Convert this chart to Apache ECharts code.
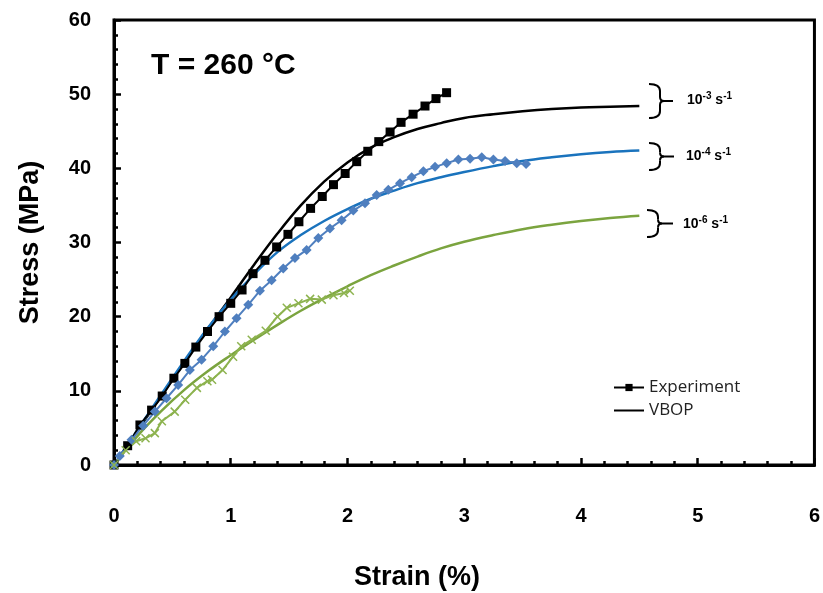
<!DOCTYPE html>
<html>
<head>
<meta charset="utf-8">
<script src="https://cdn.jsdelivr.net/npm/echarts@6/dist/echarts.min.js"></script>
<style>html,body{margin:0;padding:0;background:#fff}#c{width:823px;height:593px}</style>
</head>
<body>
<div id="c"></div>
<script>
// ---- data ----
const xTicks = [0, 1, 2, 3, 4, 5, 6];
const yTicks = [0, 10, 20, 30, 40, 50, 60];

const expBlackStrain = [0, 0.117, 0.222, 0.322, 0.413, 0.513, 0.607, 0.701, 0.801, 0.900, 1.0, 1.097, 1.191, 1.293, 1.393, 1.490, 1.584, 1.684, 1.784, 1.880, 1.980, 2.079, 2.174, 2.268, 2.365, 2.459, 2.562, 2.664, 2.758, 2.849];
const expBlackStress = [0, 2.6, 5.4, 7.4, 9.3, 11.7, 13.7, 15.9, 18.0, 20.0, 21.8, 23.6, 25.8, 27.6, 29.4, 31.1, 32.8, 34.6, 36.2, 37.8, 39.3, 40.9, 42.3, 43.6, 44.9, 46.2, 47.3, 48.4, 49.4, 50.2];

const expBlueStrain = [0, 0.05, 0.15, 0.25, 0.35, 0.45, 0.55, 0.65, 0.75, 0.85, 0.95, 1.05, 1.15, 1.25, 1.35, 1.45, 1.55, 1.65, 1.75, 1.85, 1.95, 2.05, 2.15, 2.25, 2.35, 2.45, 2.55, 2.65, 2.75, 2.85, 2.95, 3.05, 3.15, 3.25, 3.35, 3.45, 3.53];
const expBlueStress = [0, 1.2, 3.4, 5.3, 7.2, 9.0, 10.8, 12.8, 14.2, 16.0, 18.0, 19.8, 21.6, 23.5, 24.9, 26.5, 27.9, 29.0, 30.6, 31.9, 33.0, 34.3, 35.3, 36.4, 37.1, 38.0, 38.8, 39.6, 40.2, 40.7, 41.2, 41.3, 41.5, 41.2, 41.0, 40.7, 40.6];

const expGreenStrain = [0, 0.1, 0.19, 0.27, 0.35, 0.41, 0.52, 0.61, 0.71, 0.8, 0.84, 0.93, 1.02, 1.09, 1.18, 1.3, 1.4, 1.48, 1.58, 1.68, 1.78, 1.88, 1.97, 2.02];
const expGreenStress = [0, 2.0, 3.2, 3.6, 4.3, 5.9, 7.2, 8.8, 10.4, 11.3, 11.5, 12.8, 14.6, 16.0, 16.9, 18.1, 20.0, 21.2, 21.8, 22.4, 22.3, 22.9, 23.2, 23.5];

const vbopStrain = [0, 0.2, 0.4, 0.6, 0.8, 1.0, 1.2, 1.4, 1.6, 1.8, 2.0, 2.2, 2.4, 2.6, 2.8, 3.0, 3.25, 3.5, 3.75, 4.0, 4.25, 4.5];
const vbopBlack = [0, 4.6, 9.2, 13.8, 18.3, 22.6, 27.0, 31.2, 35.0, 38.2, 40.8, 42.8, 44.2, 45.3, 46.1, 46.8, 47.3, 47.7, 48.0, 48.2, 48.3, 48.4];
const vbopBlue  = [0, 4.7, 9.4, 14.0, 18.4, 22.3, 25.7, 28.7, 31.0, 32.9, 34.5, 35.9, 37.0, 38.0, 38.8, 39.5, 40.3, 41.0, 41.5, 41.9, 42.2, 42.4];
const vbopGreen = [0, 3.9, 7.2, 10.1, 12.6, 14.8, 16.9, 18.9, 20.8, 22.5, 24.1, 25.6, 26.9, 28.1, 29.2, 30.1, 31.0, 31.8, 32.4, 32.9, 33.3, 33.6];

const rateLabels = [['-3', '-1'], ['-4', '-1'], ['-6', '-1']];
// ---- end data ----

const zip = (a, b) => a.map((v, i) => [v, b[i]]);
const FONT = '"Liberation Sans", Arial, sans-serif';

const chart = echarts.init(document.getElementById('c'), null, {renderer: 'canvas'});

const bstyle = {stroke: '#000', fill: null, lineWidth: 2};
function brace(xl, top, bottom, tip) {
  const xv = xl + 11;
  const mid = (top + bottom) / 2;
  return {
    type: 'group', children: [
      {type: 'bezierCurve', shape: {x1: xl, y1: top, cpx1: xv, cpy1: top, x2: xv, y2: top + 7}, style: bstyle},
      {type: 'line', shape: {x1: xv, y1: top + 7, x2: xv, y2: mid - 4}, style: bstyle},
      {type: 'bezierCurve', shape: {x1: xv, y1: mid - 4, cpx1: xv, cpy1: mid, x2: xv + 4, y2: mid}, style: bstyle},
      {type: 'line', shape: {x1: xv + 4, y1: mid, x2: tip, y2: mid}, style: bstyle},
      {type: 'bezierCurve', shape: {x1: xv + 4, y1: mid, cpx1: xv, cpy1: mid, x2: xv, y2: mid + 4}, style: bstyle},
      {type: 'line', shape: {x1: xv, y1: mid + 4, x2: xv, y2: bottom - 7}, style: bstyle},
      {type: 'bezierCurve', shape: {x1: xv, y1: bottom - 7, cpx1: xv, cpy1: bottom, x2: xl, y2: bottom}, style: bstyle}
    ]
  };
}

function rateText(i) {
  return '{b|10}{s|' + rateLabels[i][0] + '}{b| s}{s|' + rateLabels[i][1] + '}';
}
const rich = {
  b: {fontSize: 14, fontFamily: FONT, fontWeight: 'bold', fill: '#000', lineHeight: 18},
  s: {fontSize: 10, fontFamily: FONT, fontWeight: 'bold', fill: '#000', lineHeight: 18, padding: [0, 0, 8, 0]}
};

const option = {
  animation: false,
  backgroundColor: '#fff',
  grid: {left: 114, right: 7, top: 20, bottom: 128, show: true, borderColor: '#000', borderWidth: 3, backgroundColor: 'transparent'},
  xAxis: {
    type: 'value', min: xTicks[0], max: xTicks[xTicks.length - 1], interval: 1,
    axisLine: {show: true, lineStyle: {color: '#000', width: 3}},
    axisTick: {show: true, inside: true, length: 7, lineStyle: {color: '#000', width: 2.5}},
    minorTick: {show: true, splitNumber: 5, length: 4, lineStyle: {color: '#000', width: 2.5}},
    axisLabel: {fontSize: 20, fontWeight: 'bold', fontFamily: FONT, color: '#000', margin: 41},
    splitLine: {show: false}
  },
  yAxis: {
    type: 'value', min: yTicks[0], max: yTicks[yTicks.length - 1], interval: 10,
    name: 'Stress (MPa)', nameLocation: 'middle', nameGap: 70,
    nameTextStyle: {fontSize: 27, fontWeight: 'bold', fontFamily: FONT, color: '#000'},
    axisLine: {show: true, lineStyle: {color: '#000', width: 3}},
    axisTick: {show: true, inside: true, length: 7, lineStyle: {color: '#000', width: 2.5}},
    minorTick: {show: true, splitNumber: 5, length: 4, lineStyle: {color: '#000', width: 2.5}},
    axisLabel: {fontSize: 20, fontWeight: 'bold', fontFamily: FONT, color: '#000', margin: 23},
    splitLine: {show: false}
  },
  legend: {
    orient: 'vertical', left: 608, top: 374, itemWidth: 30, itemHeight: 9, itemGap: 6,
    data: [{name: 'Experiment'}, {name: 'VBOP', itemStyle: {opacity: 0}}],
    textStyle: {fontSize: 17, fontFamily: '"Open Sans", sans-serif', color: '#222'}
  },
  series: [
    {name: 'VBOP', type: 'line', data: zip(vbopStrain, vbopBlack), smooth: 0.4, symbol: 'none',
      lineStyle: {color: '#000', width: 2.5}, itemStyle: {color: '#000'}, z: 3},
    {name: 'VBOP-blue', type: 'line', data: zip(vbopStrain, vbopBlue), smooth: 0.4, symbol: 'none',
      lineStyle: {color: '#1a73bd', width: 2.5}, itemStyle: {color: '#1a73bd'}, z: 3},
    {name: 'VBOP-green', type: 'line', data: zip(vbopStrain, vbopGreen), smooth: 0.4, symbol: 'none',
      lineStyle: {color: '#7ba43f', width: 2.5}, itemStyle: {color: '#7ba43f'}, z: 3},
    {name: 'Experiment', type: 'line', data: zip(expBlackStrain, expBlackStress), symbol: 'rect', symbolSize: 9,
      lineStyle: {color: '#000', width: 2}, itemStyle: {color: '#000'}, z: 4},
    {name: 'Exp-blue', type: 'line', data: zip(expBlueStrain, expBlueStress), symbol: 'diamond', symbolSize: 10,
      lineStyle: {color: '#4f7fbf', width: 2}, itemStyle: {color: '#4f7fbf'}, z: 4},
    {name: 'Exp-green', type: 'line', data: zip(expGreenStrain, expGreenStress),
      symbol: 'path://M0,0L10,10M10,0L0,10', symbolSize: 8,
      lineStyle: {color: '#8db34f', width: 2}, itemStyle: {color: '#8db34f', borderColor: '#8db34f', borderWidth: 1.5}, z: 4}
  ],
  graphic: [
    {type: 'text', x: 151, y: 51, style: {text: 'T = 260 °C', font: 'bold 30px ' + FONT, fill: '#000'}},
    {type: 'text', x: 417, y: 578, style: {text: 'Strain (%)', font: 'bold 27px ' + FONT, fill: '#000', align: 'center', verticalAlign: 'middle'}},
    brace(649, 84, 118, 673),
    brace(649, 143, 170, 674),
    brace(647, 210, 237, 673),
    {type: 'text', x: 687, y: 100, style: {text: rateText(0), rich: rich, verticalAlign: 'middle'}},
    {type: 'text', x: 686, y: 156, style: {text: rateText(1), rich: rich, verticalAlign: 'middle'}},
    {type: 'text', x: 683, y: 224, style: {text: rateText(2), rich: rich, verticalAlign: 'middle'}}
  ]
};
chart.setOption(option);
</script>
</body>
</html>
